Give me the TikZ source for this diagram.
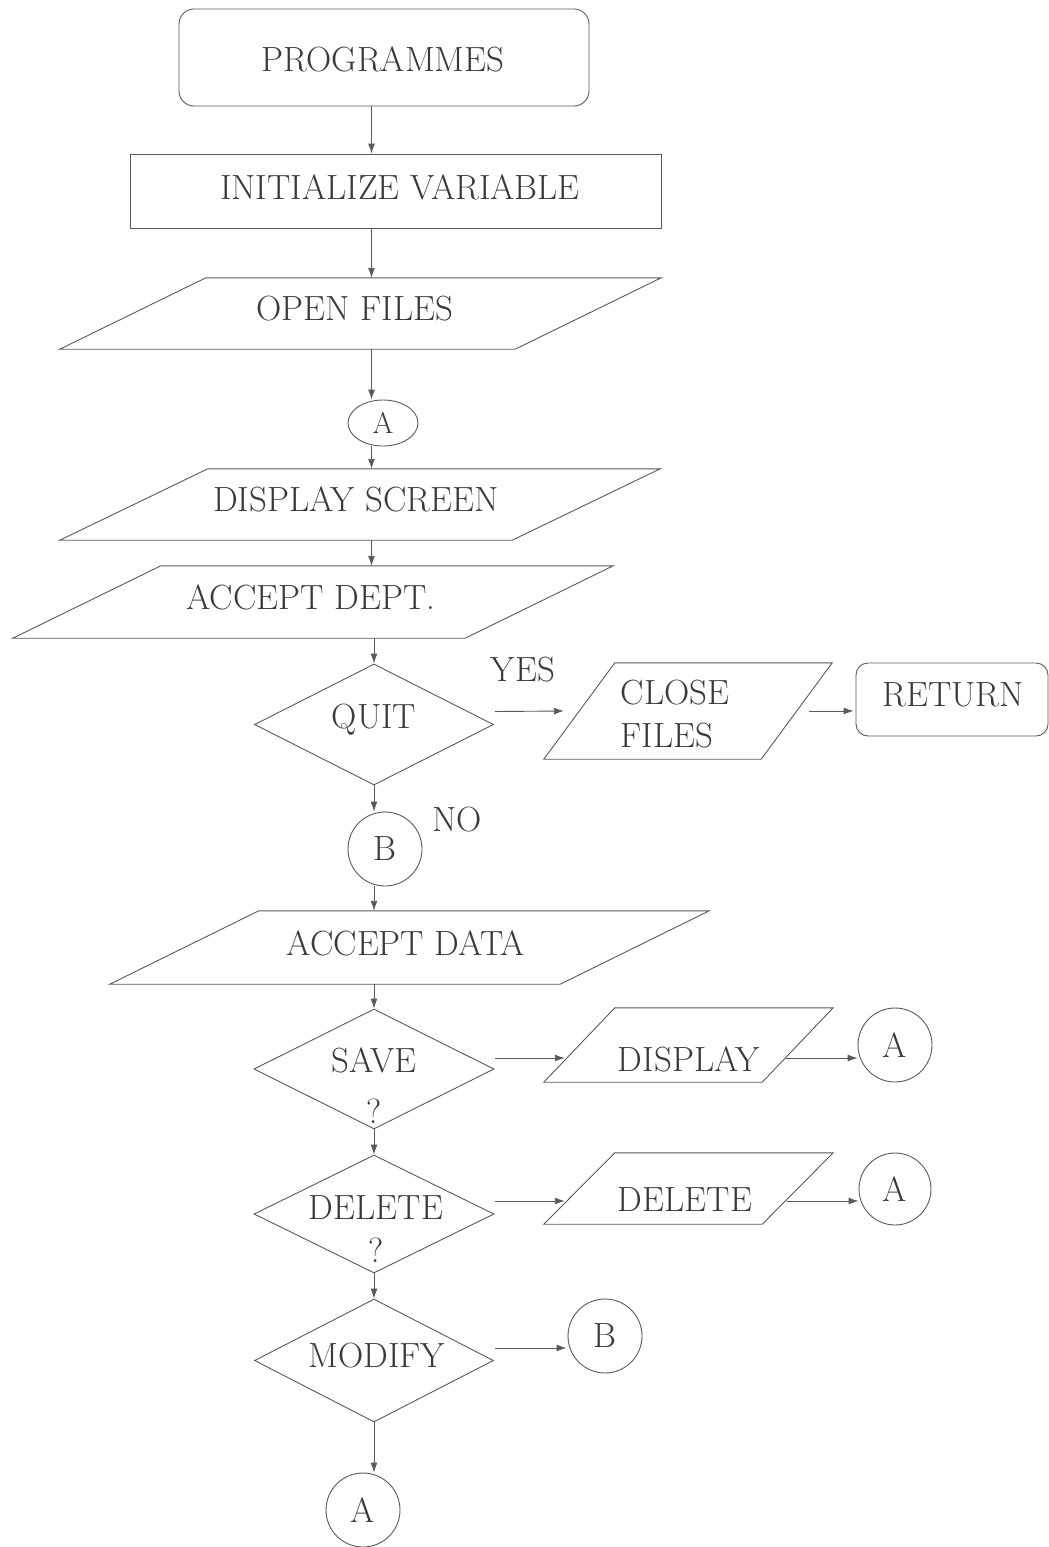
\documentclass[tikz,border=0pt]{standalone}
\usepackage{fontspec}
\usetikzlibrary{shapes.geometric,arrows.meta,calc}
\definecolor{ink}{HTML}{5A5A5A}
\definecolor{txtc}{HTML}{3A3A3A}
\tikzset{
  base/.style={draw=ink, line width=0.9pt, inner sep=0pt},
  txt/.style={text=txtc, font=\fontsize{35}{43}\selectfont, inner sep=0pt},
  rbox/.style={base, rectangle, rounded corners=15pt},
  sbox/.style={base, rectangle},
  pbox/.style={rectangle, inner sep=0pt},
  dbox/.style={base, diamond},
  cbox/.style={base, circle, text=txtc, font=\fontsize{35}{43}\selectfont},
  arr/.style={draw=ink, line width=0.9pt, -{Latex[length=10pt,width=7pt]}},
}
% outline of an input/output box: a parallelogram inside the node's frame
\newcommand\slantbox[2]{%
  \draw[draw=ink, line width=0.9pt, line join=miter]
    ($(#1.north west)+(#2,0)$) -- (#1.north east) --
    ($(#1.south east)-(#2,0)$) -- (#1.south west) -- cycle;}
\begin{document}
\begin{tikzpicture}[x=1pt, y=-1pt]
\useasboundingbox (0,0) rectangle (1049,1547);
\fill[white] (0,0) rectangle (1049,1547);

\coordinate (col) at (371.5,0);
\coordinate (col2) at (374,0);

% main column
\node[rbox, minimum width=410pt, minimum height=97pt] (prog) at (384,57.5) {};
\node[txt] (prog-t) at (383,59.5) {PROGRAMMES};

\node[sbox, minimum width=531pt, minimum height=74pt] (init) at (395.5,191) {};
\node[txt] (init-t) at (400,187) {INITIALIZE VARIABLE};

\node[pbox, minimum width=601pt, minimum height=71pt] (open) at (360.5,313.5) {};
\slantbox{open}{146}
\node[txt] (open-t) at (355,309) {OPEN FILES};

\node[base, ellipse, minimum width=70pt, minimum height=46pt, text=txtc,
      font=\fontsize{30}{36}\selectfont] (A1) at (383,423) {A};

\node[pbox, minimum width=600pt, minimum height=71pt] (disp) at (360,504.5) {};
\slantbox{disp}{148}
\node[txt] (disp-t) at (356,499) {DISPLAY SCREEN};

\node[pbox, minimum width=600pt, minimum height=72pt] (dept) at (313,602) {};
\slantbox{dept}{148}
\node[txt] (dept-t) at (311,597) {ACCEPT DEPT.};

\node[dbox, minimum width=239pt, minimum height=121pt] (quit) at (374,724.5) {};
\node[txt] (quit-t) at (374,720) {QUIT};

\node[txt] (yes) at (523,670) {YES};
\node[pbox, minimum width=288pt, minimum height=96pt] (close) at (688,711) {};
\slantbox{close}{71}
\node[txt, align=left] (close-t) at (675,714.5) {CLOSE\\FILES};

\node[rbox, rounded corners=12pt, minimum width=192pt, minimum height=73pt] (ret) at (952,699.5) {};
\node[txt] (ret-t) at (953,695) {RETURN};

\node[cbox, minimum size=74pt] (B1) at (385,849) {B};
\node[txt] (no) at (457,820) {NO};

\node[pbox, minimum width=599pt, minimum height=73pt] (data) at (409.5,947.5) {};
\slantbox{data}{149}
\node[txt] (data-t) at (406,943) {ACCEPT DATA};

\node[dbox, minimum width=240pt, minimum height=120pt] (save) at (374,1069) {};
\node[txt] (save-t) at (374,1060) {SAVE};
\node[txt] (save-q) at (374,1111) {?};

\node[pbox, minimum width=289pt, minimum height=74pt] (disp2) at (688.5,1045) {};
\slantbox{disp2}{71}
\node[txt] (disp2-t) at (689,1059) {DISPLAY};
\node[cbox, minimum size=74pt] (A2) at (895,1045) {A};

\node[dbox, minimum width=240pt, minimum height=118pt] (del) at (374,1214) {};
\node[txt] (del-t) at (376,1208) {DELETE};
\node[txt] (del-q) at (376,1250) {?};

\node[pbox, minimum width=289pt, minimum height=71pt] (del2) at (688.5,1188.5) {};
\slantbox{del2}{71}
\node[txt] (del2-t) at (685,1200) {DELETE};
\node[cbox, minimum size=72pt] (A3) at (895,1189) {A};

\node[dbox, minimum width=239pt, minimum height=123pt] (mod) at (374,1360.5) {};
\node[txt] (mod-t) at (377,1356) {MODIFY};
\node[cbox, minimum size=74pt] (B2) at (605,1336) {B};

\node[cbox, minimum size=74pt] (A4) at (363,1510) {A};

% vertical flow
\draw[arr] (prog.south -| col) -- (init.north -| col);
\draw[arr] (init.south -| col) -- (open.north -| col);
\draw[arr] (open.south -| col) -- (A1.north -| col);
\draw[arr] (A1.south -| col) -- (disp.north -| col);
\draw[arr] (disp.south -| col) -- (dept.north -| col);
\draw[arr] (dept.south -| quit.north) -- (quit.north);
\draw[arr] (quit.south) -- (quit.south |- B1.north);
\draw[arr] (B1.south -| col2) -- (data.north -| col2);
\draw[arr] (data.south -| col2) -- (save.north);
\draw[arr] (save.south) -- (del.north);
\draw[arr] (del.south) -- (mod.north);
\draw[arr] (mod.south) -- (mod.south |- A4.north);

% side branches
\draw[arr] ($(quit.east)+(1,-13)$) -- ($(close.west)+(20,0)$);
\draw[arr] ($(close.east)+(-23,0)$) -- ($(ret.west)+(-2,11.5)$);
\draw[arr] ($(save.east)+(1,-11)$) -- ($(disp2.west)+(21,13)$);
\draw[arr] ($(disp2.east)+(-47,13)$) -- ($(A2.west)+(0,13)$);
\draw[arr] ($(del.east)+(1,-13)$) -- ($(del2.west)+(21,12.5)$);
\draw[arr] ($(del2.east)+(-46,12.5)$) -- ($(A3.west)+(0,12)$);
\draw[arr] ($(mod.east)+(1,-12.5)$) -- ($(B2.west)+(-1,12)$);
\end{tikzpicture}
\end{document}
